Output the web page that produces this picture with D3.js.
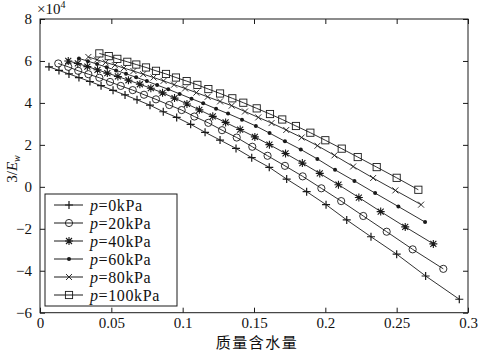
<!DOCTYPE html>
<html>
<head>
<meta charset="utf-8">
<script src="https://d3js.org/d3.v7.min.js"></script>
<style>
  body { margin: 0; background: #fff; }
  text { font-family: "Liberation Serif", "DejaVu Serif", serif; fill: #111; }
</style>
</head>
<body>
<div id="chart"></div>
<script>
// y values are in units of 10^4 (as printed on the axis)
var xTicks = [0, 0.05, 0.1, 0.15, 0.2, 0.25, 0.3]
var yTicks = [-6, -4, -2, 0, 2, 4, 6, 8]
var labels = ["0kPa", "20kPa", "40kPa", "60kPa", "80kPa", "100kPa"]
var symbols = ["plus", "circle", "asterisk", "dot", "cross", "square"]

var x0 = [0.0063, 0.0133, 0.0203, 0.0273, 0.0350, 0.0428, 0.0512, 0.0596, 0.0680, 0.0771, 0.0864, 0.0958, 0.1056,
          0.1157, 0.1262, 0.1374, 0.1484, 0.1607, 0.1729, 0.1869, 0.2005, 0.2150, 0.2320, 0.2500, 0.2703, 0.2939]
var y0 = [5.72, 5.55, 5.38, 5.21, 5.02, 4.82, 4.60, 4.38, 4.15, 3.89, 3.58, 3.31, 2.98,
          2.60, 2.23, 1.83, 1.39, 0.93, 0.37, -0.23, -0.85, -1.58, -2.38, -3.21, -4.25, -5.36]

var x20 = [0.0128, 0.0198, 0.0268, 0.0339, 0.0416, 0.0491, 0.0566, 0.0650, 0.0729, 0.0813, 0.0906, 0.0993, 0.1082,
           0.1180, 0.1276, 0.1379, 0.1488, 0.1595, 0.1717, 0.1841, 0.1972, 0.2111, 0.2266, 0.2430, 0.2612, 0.2827]
var y20 = [5.88, 5.72, 5.53, 5.37, 5.20, 5.00, 4.81, 4.61, 4.39, 4.17, 3.90, 3.66, 3.35,
           3.05, 2.70, 2.35, 1.91, 1.48, 1.00, 0.50, -0.07, -0.68, -1.39, -2.14, -2.98, -3.91]

var x40 = [0.0198, 0.0265, 0.0332, 0.0403, 0.0472, 0.0546, 0.0620, 0.0700, 0.0777, 0.0859, 0.0943, 0.1030, 0.1117,
           0.1211, 0.1301, 0.1403, 0.1506, 0.1608, 0.1721, 0.1839, 0.1961, 0.2092, 0.2235, 0.2388, 0.2560, 0.2757]
var y40 = [6.00, 5.88, 5.73, 5.58, 5.42, 5.26, 5.08, 4.89, 4.70, 4.48, 4.23, 3.95, 3.67,
           3.36, 3.07, 2.73, 2.38, 2.01, 1.59, 1.13, 0.64, 0.10, -0.51, -1.18, -1.91, -2.72]

var x60 = [0.0273, 0.0336, 0.0400, 0.0468, 0.0533, 0.0603, 0.0674, 0.0749, 0.0821, 0.0899, 0.0979, 0.1062, 0.1144,
           0.1234, 0.1318, 0.1416, 0.1513, 0.1609, 0.1717, 0.1828, 0.1944, 0.2068, 0.2204, 0.2349, 0.2512, 0.2699]
var y60 = [6.12, 5.99, 5.85, 5.70, 5.55, 5.39, 5.22, 5.04, 4.85, 4.65, 4.43, 4.20, 3.98,
           3.72, 3.49, 3.20, 2.90, 2.56, 2.17, 1.78, 1.33, 0.81, 0.28, -0.30, -0.94, -1.68]

var x80 = [0.0339, 0.0400, 0.0460, 0.0525, 0.0588, 0.0655, 0.0723, 0.0796, 0.0866, 0.0940, 0.1017, 0.1096, 0.1175,
           0.1262, 0.1344, 0.1437, 0.1530, 0.1623, 0.1726, 0.1834, 0.1945, 0.2064, 0.2195, 0.2335, 0.2491, 0.2671]
var y80 = [6.19, 6.06, 5.93, 5.80, 5.66, 5.52, 5.37, 5.21, 5.05, 4.87, 4.69, 4.49, 4.29,
           4.07, 3.87, 3.59, 3.31, 3.04, 2.71, 2.35, 1.96, 1.50, 0.97, 0.42, -0.17, -0.85]

var x100 = [0.0416, 0.0482, 0.0542, 0.0612, 0.0675, 0.0743, 0.0813, 0.0883, 0.0953, 0.1028, 0.1103, 0.1180, 0.1262,
            0.1348, 0.1425, 0.1519, 0.1612, 0.1698, 0.1794, 0.1895, 0.2000, 0.2115, 0.2227, 0.2360, 0.2500, 0.2652]
var y100 = [6.36, 6.23, 6.10, 5.96, 5.83, 5.69, 5.53, 5.38, 5.21, 5.04, 4.86, 4.66, 4.45,
            4.22, 4.01, 3.74, 3.47, 3.21, 2.90, 2.58, 2.22, 1.82, 1.42, 0.94, 0.43, -0.14]

var xs = [x0, x20, x40, x60, x80, x100]
var ys = [y0, y20, y40, y60, y80, y100]

var width = 479, height = 351
var mLeft = 40, mRight = 468, mTop = 19, mBottom = 312.7
var ink = "#1a1a1a"
var serif = "'Liberation Serif', 'DejaVu Serif', serif"

var svg = d3.select("#chart").append("svg")
  .attr("width", width)
  .attr("height", height)

var x = d3.scaleLinear().domain([0, 0.3]).range([mLeft, mRight])
var y = d3.scaleLinear().domain([-6, 8]).range([mBottom, mTop])

// axes, matlab style: ticks inside on all four sides
var tk = 5
svg.append("g").attr("transform", "translate(0," + mBottom + ")")
  .call(d3.axisBottom(x).tickValues(xTicks).tickSize(-tk).tickPadding(5).tickFormat(d3.format("")))
svg.append("g").attr("transform", "translate(0," + mTop + ")")
  .call(d3.axisTop(x).tickValues(xTicks).tickSize(-tk).tickFormat(""))
svg.append("g").attr("transform", "translate(" + mLeft + ",0)")
  .call(d3.axisLeft(y).tickValues(yTicks).tickSize(-tk).tickPadding(8).tickFormat(d3.format("")))
svg.append("g").attr("transform", "translate(" + mRight + ",0)")
  .call(d3.axisRight(y).tickValues(yTicks).tickSize(-tk).tickFormat(""))

svg.selectAll(".domain").remove()
svg.selectAll(".tick line").attr("stroke", ink)
svg.selectAll(".tick text").style("font-family", serif).style("font-size", "15px").attr("fill", ink)

svg.append("rect")
  .attr("x", mLeft).attr("y", mTop)
  .attr("width", mRight - mLeft).attr("height", mBottom - mTop)
  .attr("fill", "none").attr("stroke", ink).attr("stroke-width", 1)

// x10^4
var mult = svg.append("text").attr("x", 37).attr("y", 14).style("font-family", serif).attr("font-size", 15)
mult.append("tspan").text("×10")
mult.append("tspan").attr("font-size", 10).attr("dy", -6).text("4")

// axis titles
var yl = svg.append("text")
  .attr("transform", "translate(17,169) rotate(-90)")
  .attr("text-anchor", "middle").style("font-family", serif).attr("font-size", 15)
yl.append("tspan").text("3/")
yl.append("tspan").attr("font-style", "italic").text("E")
yl.append("tspan").attr("font-style", "italic").attr("font-size", 10).attr("dy", 3).text("w")

svg.append("text")
  .attr("x", 257).attr("y", 348)
  .attr("text-anchor", "middle")
  .style("font-family", "'Noto Sans CJK SC', sans-serif")
  .attr("font-size", 15).attr("letter-spacing", 1.5)
  .text("质量含水量")

function marker(g, kind, cx, cy) {
  if (kind == "plus") {
    g.append("path").attr("d", "M" + (cx - 4) + "," + cy + "H" + (cx + 4) + "M" + cx + "," + (cy - 4) + "V" + (cy + 4))
      .attr("stroke", ink).attr("stroke-width", 1.2)
  } else if (kind == "circle") {
    g.append("circle").attr("cx", cx).attr("cy", cy).attr("r", 3.6)
      .attr("fill", "none").attr("stroke", ink).attr("stroke-width", 0.9)
  } else if (kind == "asterisk") {
    g.append("path").attr("d", "M" + (cx - 4) + "," + cy + "H" + (cx + 4) + "M" + cx + "," + (cy - 4) + "V" + (cy + 4) +
      "M" + (cx - 3) + "," + (cy - 3) + "L" + (cx + 3) + "," + (cy + 3) + "M" + (cx - 3) + "," + (cy + 3) + "L" + (cx + 3) + "," + (cy - 3))
      .attr("stroke", ink).attr("stroke-width", 1.1)
  } else if (kind == "dot") {
    g.append("circle").attr("cx", cx).attr("cy", cy).attr("r", 2).attr("fill", ink)
  } else if (kind == "cross") {
    g.append("path").attr("d", "M" + (cx - 3) + "," + (cy - 3) + "L" + (cx + 3) + "," + (cy + 3) + "M" + (cx - 3) + "," + (cy + 3) + "L" + (cx + 3) + "," + (cy - 3))
      .attr("stroke", ink).attr("stroke-width", 0.9)
  } else if (kind == "square") {
    g.append("rect").attr("x", cx - 3.6).attr("y", cy - 3.6).attr("width", 7.2).attr("height", 7.2)
      .attr("fill", "none").attr("stroke", ink).attr("stroke-width", 0.9)
  }
}

var line = d3.line().x(function(d) { return x(d[0]) }).y(function(d) { return y(d[1]) })

xs.forEach(function(xv, i) {
  var pts = d3.zip(xv, ys[i])
  var g = svg.append("g")
  g.append("path").datum(pts).attr("d", line)
    .attr("fill", "none").attr("stroke", ink).attr("stroke-width", 0.9)
  pts.forEach(function(p) { marker(g, symbols[i], x(p[0]), y(p[1])) })
})

// legend
var lg = svg.append("g")
lg.append("rect").attr("x", 45).attr("y", 194).attr("width", 132).attr("height", 112)
  .attr("fill", "#fff").attr("stroke", ink).attr("stroke-width", 1)
labels.forEach(function(lab, i) {
  var ry = 205 + i * 18
  lg.append("line").attr("x1", 54).attr("x2", 83).attr("y1", ry).attr("y2", ry)
    .attr("stroke", ink).attr("stroke-width", 1)
  marker(lg, symbols[i], 69, ry)
  var t = lg.append("text").attr("x", 90).attr("y", ry + 5.5).style("font-family", serif)
    .attr("font-size", 16).attr("letter-spacing", 0.6)
  t.append("tspan").attr("font-style", "italic").text("p")
  t.append("tspan").text("=" + lab)
})
</script>
</body>
</html>
